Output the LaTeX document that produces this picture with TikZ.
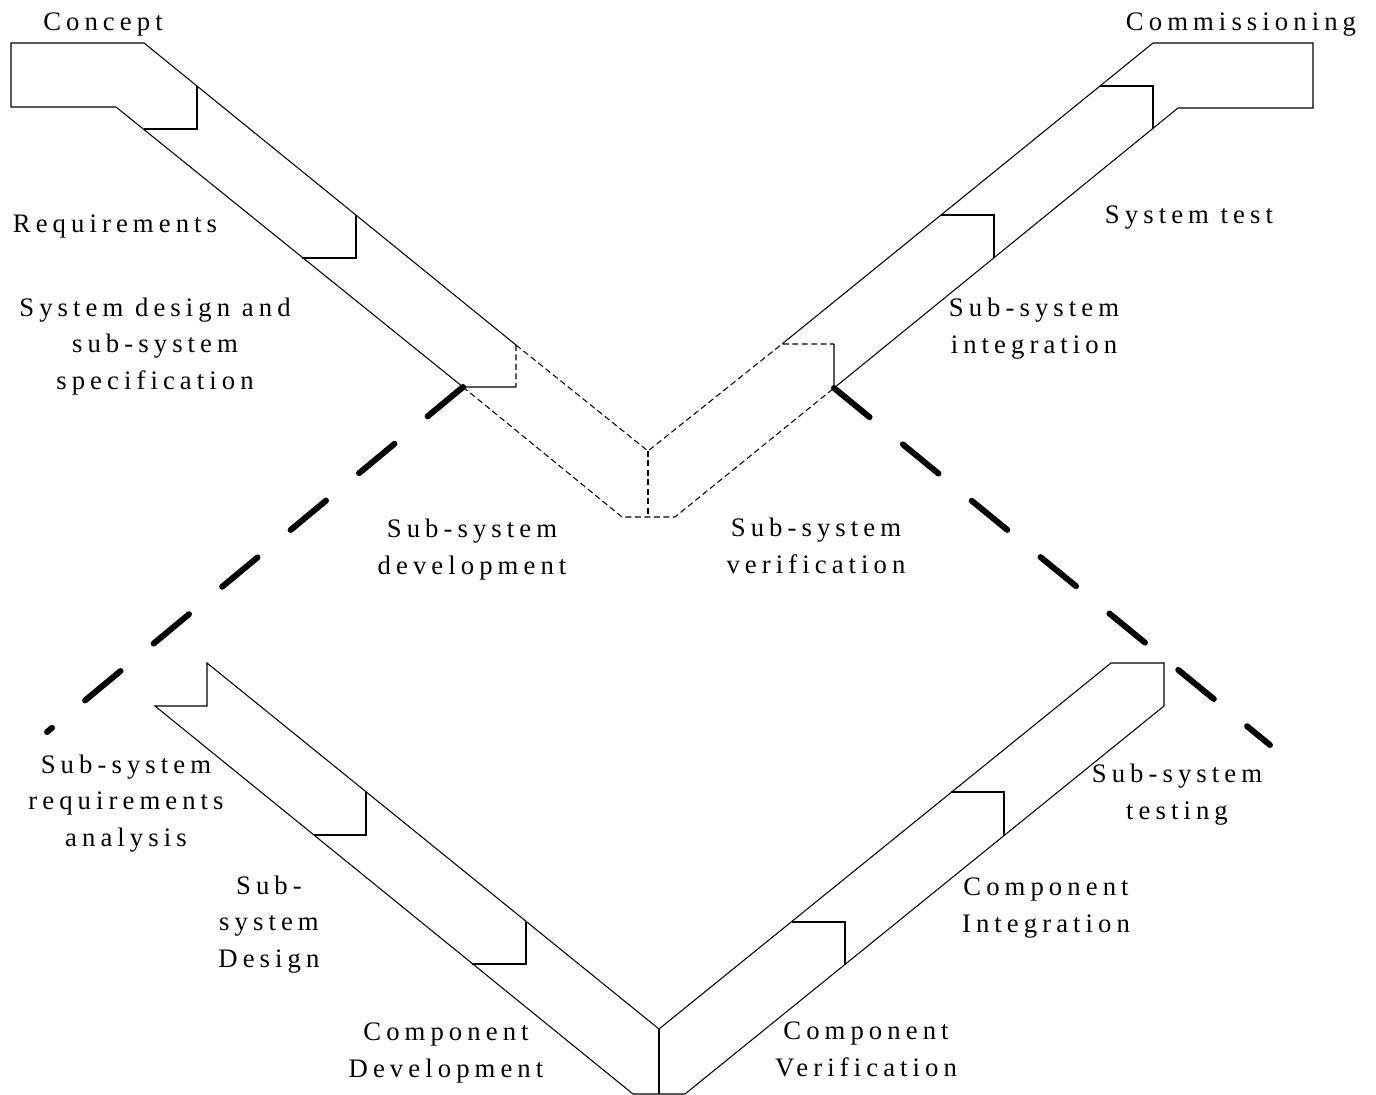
\documentclass[tikz,border=0pt]{standalone}
\usepackage{fontspec}
\setmainfont{Liberation Serif}[LetterSpace=19]
\usepackage{tikz}

\begin{document}
\begin{tikzpicture}[x=0.02cm,y=-0.02cm,
  band/.style={line width=0.6pt,line join=miter},
  subbox/.style={line width=0.6pt,dash pattern=on 3.4pt off 2pt},
  zoomline/.style={line width=3.4pt,line cap=round,dash pattern=on 0.92cm off 0.86cm},
  phase/.style={align=center,anchor=base,inner sep=0pt,font=\fontsize{15.2}{20.5}\selectfont}]
  \useasboundingbox (0,0) rectangle (1376,1095);
  % system level V
  \coordinate (tlin) at (516,345);
  \coordinate (tlout) at (463,387);
  \coordinate (trin) at (782,344);
  \coordinate (trout) at (834,388);
  \coordinate (tv) at (648,451);
  \draw[band] (144,43) -- (11,43) -- (11,107) -- (116,107) -- (tlout) -- ++(53,0);
  \draw[band] (144,43) -- (tlin);
  \draw[band] (197,86) -- (197,129) -- (144,129);
  \draw[band] (356,215) -- (356,258) -- (302,258);
  \draw[band] (1153,43) -- (1313,43) -- (1313,108) -- (1178,108) -- (trout) -- ++(0,-44);
  \draw[band] (1153,43) -- (trin);
  \draw[band] (1100,86) -- (1153,86) -- (1153,129);
  \draw[band] (941,215) -- (994,215) -- (994,258);
  % sub-system box
  \draw[subbox] (tlin) -- ++(0,42) (tlin) -- (tv) -- (trin) -- ++(52,0);
  \draw[subbox] (tlout) -- (622,517) -- (675,517) -- (trout);
  \draw[subbox] (tv) -- (648,517);
  \draw[zoomline] (tlout) -- (47,732);
  \draw[zoomline] (trout) -- (1270,745);
  % sub-system level V
  \coordinate (bv) at (659,1029);
  \draw[band] (207,663) -- (bv) -- (1111,663) -- (1164,663) -- (1164,706) -- (685,1094)
    -- (633,1094) -- (155,706) -- (207,706) -- cycle;
  \draw[band] (bv) -- (659,1094);
  \draw[band] (366,792) -- (366,835) -- (314,835);
  \draw[band] (526,922) -- (526,964) -- (472,964);
  \draw[band] (792,922) -- (845,922) -- (845,965);
  \draw[band] (951,792) -- (1004,792) -- (1004,836);
  % labels
  \node[phase] (concept) at (103,31) {Concept};
  \node[phase] (commission) at (1241,31) {Commissioning};
  \node[phase] (req) at (115,232) {Requirements};
  \node[phase] (sysdesign) at (155,389) {System design and\\sub-system\\specification};
  \node[phase] (systest) at (1189,223) {System test};
  \node[phase] (ssinteg) at (1034,353) {Sub-system\\integration};
  \node[phase] (ssdev) at (472,574) {Sub-system\\development};
  \node[phase] (ssverif) at (816,573) {Sub-system\\verification};
  \node[phase] (ssreq) at (126,846) {Sub-system\\requirements\\analysis};
  \node[phase] (ssdesign) at (269,967) {Sub-\\system\\Design};
  \node[phase] (compdev) at (446,1077) {Component\\Development};
  \node[phase] (sstest) at (1177,819) {Sub-system\\testing};
  \node[phase] (compinteg) at (1046,932) {Component\\Integration};
  \node[phase] (compverif) at (866,1076) {Component\\Verification};
\end{tikzpicture}
\end{document}
